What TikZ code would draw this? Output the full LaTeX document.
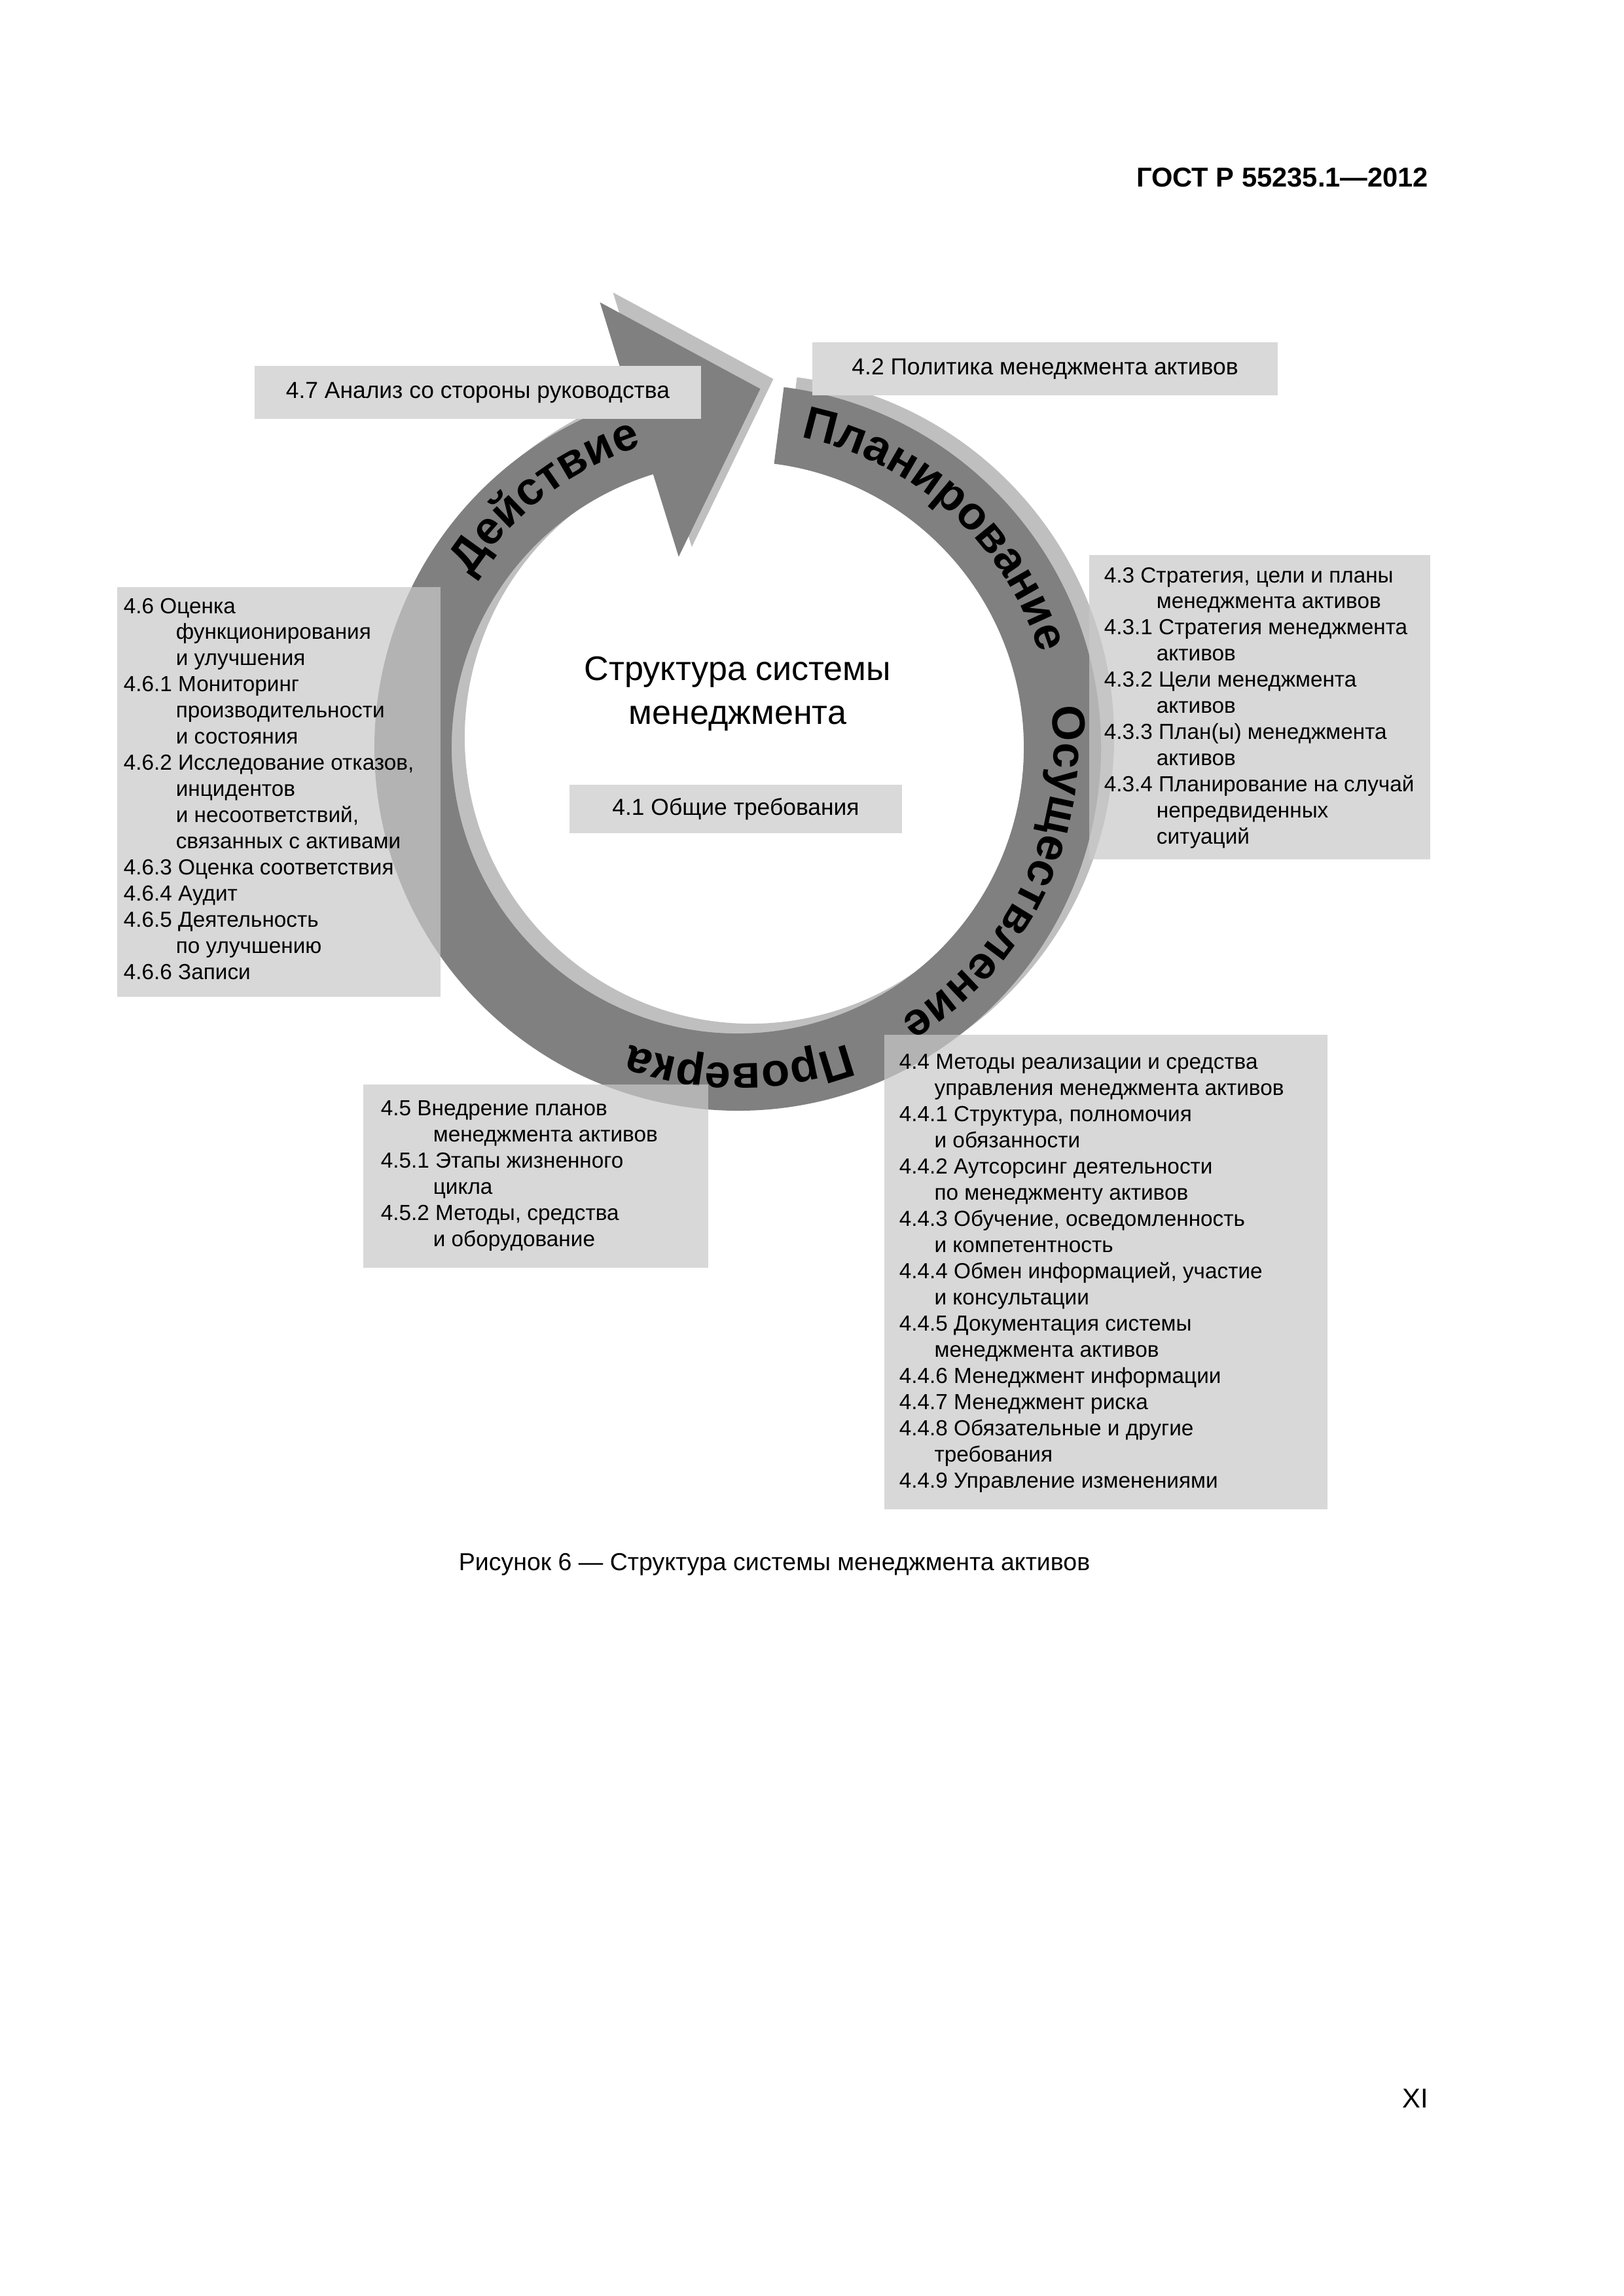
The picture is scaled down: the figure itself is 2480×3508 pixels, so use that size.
\documentclass[tikz,border=0pt]{standalone}
\usepackage{fontspec}
\setmainfont{Liberation Sans}
\usetikzlibrary{positioning,fit,decorations.text}

\definecolor{ringdark}{gray}{0.50}
\definecolor{ringshade}{gray}{0.75}
\definecolor{boxgray}{gray}{0.85}
\definecolor{glassgray}{gray}{0.79}

\newcommand{\ringfont}{\fontsize{17pt}{20pt}\selectfont\bfseries}
\newcommand{\indentrow}[1][19.2pt]{\hspace*{#1}}
\newcommand{\cyclepath}{(82.7:555) arc[start angle=82.7, end angle=-252.8, radius=555] -- (107.2:712) -- (86.4:549) -- (107.2:305) -- (107.2:437) arc[start angle=107.2, end angle=442.7, radius=437] -- cycle}

\begin{document}
\begin{tikzpicture}[x=0.24pt,y=0.24pt,
  plainbox/.style={fill=boxgray,inner sep=0pt},
  glassbox/.style={fill=glassgray,fill opacity=0.71,inner sep=0pt},
  boxlabel/.style={anchor=center,inner sep=0pt,font=\fontsize{8.5pt}{10pt}\selectfont},
  listtext/.style={anchor=base west,inner sep=0pt,font=\fontsize{8pt}{9.6pt}\selectfont},
  ringword/.style={decorate,decoration={text along path,text align=center,text={|\ringfont|#1}}}]
\useasboundingbox (0,0) rectangle (2480,-3508);
\fill[white] (0,0) rectangle (2480,-3508);

\node[anchor=base east,inner sep=0pt,font=\fontsize{10pt}{12pt}\selectfont\bfseries] (gost) at (2183,-286) {ГОСТ Р 55235.1—2012};

\begin{scope}[shift={(1147,-1127)}]
\fill[ringshade] \cyclepath;
\end{scope}
\begin{scope}[shift={(1127,-1142)}]
\fill[ringdark] \cyclepath;
\path[ringword={Планирование}] (92.9:483) arc[start angle=92.9, end angle=2.9, radius=483];
\path[ringword={Осуществление}] (19.2:483) arc[start angle=19.2, end angle=-70.8, radius=483];
\path[ringword={Проверка}] (-44.7:483) arc[start angle=-44.7, end angle=-134.7, radius=483];
\path[ringword={Действие}] (172.5:483) arc[start angle=172.5, end angle=82.5, radius=483];
\end{scope}

\node[align=center,font=\fontsize{12.5pt}{16pt}\selectfont] (title) at (1127,-1060) {Структура системы\\менеджмента};
\node[plainbox,fit={(870,-1199) (1378,-1273)}] (b41) {};
\node[boxlabel] (t41) at (b41) {4.1 Общие требования};

\node[glassbox,fit={(1664,-848) (2185,-1313)}] (b43) {};
\node[glassbox,fit={(179,-897) (673,-1523)}] (b46) {};
\node[glassbox,fit={(555,-1657) (1082,-1937)}] (b45) {};
\node[glassbox,fit={(1351,-1581) (2028,-2306)}] (b44) {};

\node[listtext] (t43) at (1686,-890) {\begin{tabular}[t]{@{}l@{}}
4.3 Стратегия, цели и планы\\
\indentrow менеджмента активов\\
4.3.1 Стратегия менеджмента\\
\indentrow активов\\
4.3.2 Цели менеджмента\\
\indentrow активов\\
4.3.3 План(ы) менеджмента\\
\indentrow активов\\
4.3.4 Планирование на случай\\
\indentrow непредвиденных\\
\indentrow ситуаций
\end{tabular}};
\node[listtext] (t46) at (188,-937) {\begin{tabular}[t]{@{}l@{}}
4.6 Оценка\\
\indentrow функционирования\\
\indentrow и улучшения\\
4.6.1 Мониторинг\\
\indentrow производительности\\
\indentrow и состояния\\
4.6.2 Исследование отказов,\\
\indentrow инцидентов\\
\indentrow и несоответствий,\\
\indentrow связанных с активами\\
4.6.3 Оценка соответствия\\
4.6.4 Аудит\\
4.6.5 Деятельность\\
\indentrow по улучшению\\
4.6.6 Записи
\end{tabular}};
\node[listtext] (t45) at (581,-1704) {\begin{tabular}[t]{@{}l@{}}
4.5 Внедрение планов\\
\indentrow менеджмента активов\\
4.5.1 Этапы жизненного\\
\indentrow цикла\\
4.5.2 Методы, средства\\
\indentrow и оборудование
\end{tabular}};
\node[listtext] (t44) at (1373,-1633) {\begin{tabular}[t]{@{}l@{}}
4.4 Методы реализации и средства\\
\indentrow[12.9pt]управления менеджмента активов\\
4.4.1 Структура, полномочия\\
\indentrow[12.9pt]и обязанности\\
4.4.2 Аутсорсинг деятельности\\
\indentrow[12.9pt]по менеджменту активов\\
4.4.3 Обучение, осведомленность\\
\indentrow[12.9pt]и компетентность\\
4.4.4 Обмен информацией, участие\\
\indentrow[12.9pt]и консультации\\
4.4.5 Документация системы\\
\indentrow[12.9pt]менеджмента активов\\
4.4.6 Менеджмент информации\\
4.4.7 Менеджмент риска\\
4.4.8 Обязательные и другие\\
\indentrow[12.9pt]требования\\
4.4.9 Управление изменениями
\end{tabular}};

\node[plainbox,fit={(389,-559) (1071,-640)}] (b47) {};
\node[boxlabel] (t47) at (b47) {4.7 Анализ со стороны руководства};
\node[plainbox,fit={(1241,-523) (1952,-604)}] (b42) {};
\node[boxlabel] (t42) at (b42) {4.2 Политика менеджмента активов};

\node[anchor=base,inner sep=0pt,font=\fontsize{9pt}{11pt}\selectfont] (caption) at (1183,-2399) {Рисунок 6 — Структура системы менеджмента активов};
\node[anchor=base east,inner sep=0pt,font=\fontsize{10pt}{12pt}\selectfont] (pageno) at (2183,-3220) {XI};
\end{tikzpicture}
\end{document}
